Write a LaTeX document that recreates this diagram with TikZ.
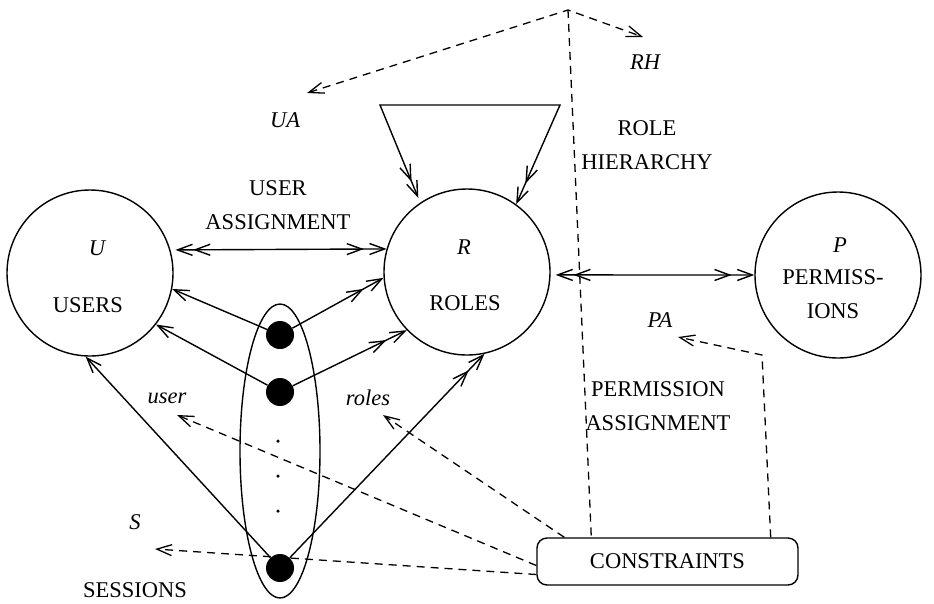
\documentclass[tikz,border=0pt]{standalone}
\usepackage{fontspec}
\setmainfont{Liberation Serif}
\usetikzlibrary{arrows.meta,shapes.geometric}

\colorlet{set edge}{black}
\tikzset{
  every node/.style={font=\fontsize{22.5}{34}\selectfont},
  set/.style={circle, draw=set edge, line width=1.4pt, minimum size=166pt, inner sep=0pt},
  sessions/.style={ellipse, draw=set edge, line width=1.4pt, minimum width=80pt, minimum height=294pt, inner sep=0pt},
  box/.style={rectangle, rounded corners=10pt, draw=set edge, line width=1.4pt, minimum width=261pt, minimum height=47pt},
  mathlabel/.style={font=\fontsize{22.5}{34}\selectfont\itshape, inner sep=0pt},
  textlabel/.style={align=center, inner sep=0pt}
  }
\tikzstyle{edge} = [draw, line width=1.4pt, -{Straight Barb[length=15pt,width=11pt]}]
\tikzstyle{manyedge} = [draw, line width=1.4pt,
  -{Straight Barb[length=15pt,width=11pt,sep=5pt] Straight Barb[length=15pt,width=11pt]}]
\tikzstyle{bothmany} = [draw, line width=1.4pt,
  {Straight Barb[length=15pt,width=11pt,sep=5pt] Straight Barb[length=15pt,width=11pt]}-{Straight Barb[length=15pt,width=11pt,sep=5pt] Straight Barb[length=15pt,width=11pt]}]
\tikzstyle{dashline} = [draw, line width=1.3pt, dash pattern=on 8pt off 6pt]
\tikzstyle{dashedge} = [dashline, -{Straight Barb[length=15pt,width=11pt]}]
\tikzstyle{dashboth} = [dashline, {Straight Barb[length=15pt,width=11pt]}-{Straight Barb[length=15pt,width=11pt]}]
\tikzstyle{vertex}=[circle, fill=black, minimum size=28pt, inner sep=0pt]
\tikzstyle{dot}=[circle, fill=black, minimum size=3.5pt, inner sep=0pt]

\begin{document}
\begin{tikzpicture}[x=1pt,y=-1pt]
  \useasboundingbox (0,0) rectangle (934,603);

  \node[set] (users) at (90,273) {};
  \node[set] (roles) at (467,272) {};
  \node[set] (perms) at (838,275) {};
  \node[sessions] (sess) at (280,451) {};
  \node[box] (cons) at (667.5,561.5) {CONSTRAINTS};

  \foreach \pos/\name/\txt in {{(97,248)/lU/U}, {(464,247)/lR/R}, {(840,245)/lP/P},
      {(285,120)/lUA/UA}, {(645,62)/lRH/RH}, {(660,320)/lPA/PA},
      {(135,522)/lS/S}, {(167,398)/luser/user}, {(368,398)/lroles/roles}} {
    \node[mathlabel] (\name) at \pos {\txt};
  }
  \foreach \pos/\name/\txt in {{(88,305)/tusers/USERS}, {(465,303)/troles/ROLES},
      {(833,294)/tperms/{PERMISS-\\IONS}}, {(278,205)/tua/{USER\\ASSIGNMENT}},
      {(647,145)/trh/{ROLE\\HIERARCHY}}, {(658,406)/tpa/{PERMISSION\\ASSIGNMENT}},
      {(135,590)/tsess/SESSIONS}} {
    \node[textlabel] (\name) at \pos {\txt};
  }

  % assignments
  \path[bothmany] (users.16) -- (roles.164);
  \path[bothmany] (roles.-2) -- (perms.180);
  \coordinate (loopL) at (380,105);
  \coordinate (loopR) at (560,105);
  \path[bothmany] (roles.124) -- (loopL) -- (loopR) -- (roles.54);

  % sessions
  \foreach \pos/\name in {{(280,335)/s1}, {(280,392)/s2}, {(280,568)/s3}} {
    \node[vertex] (\name) at \pos {};
  }
  \foreach \y [count=\i] in {441,476,511} {
    \node[dot] (dot\i) at (278,\y) {};
  }
  \foreach \s/\u/\r in {s1/-11/184, s2/-38/224, s3/-93/-78} {
    \path[edge] (\s) -- (users.\u);
    \path[manyedge] (\s) -- (roles.\r);
  }

  % constraints
  \coordinate (apex) at (568,10);
  \coordinate (uaEnd) at (307,93);
  \coordinate (rhEnd) at (643,37);
  \coordinate (paBend) at (762,355);
  \coordinate (paEnd) at (678,337);
  \coordinate (userEnd) at (177,415);
  \coordinate (rolesEnd) at (383,415);
  \coordinate (sEnd) at (155,549);
  \path[dashboth] (uaEnd) -- (apex) -- (rhEnd);
  \path[dashline] (apex) -- ([xshift=55pt]cons.north west);
  \path[dashedge] ([xshift=-28pt]cons.north east) -- (paBend) -- (paEnd);
  \path[dashedge] ([xshift=28pt]cons.north west) -- (rolesEnd);
  \path[dashedge] ([yshift=-4pt]cons.west) -- (userEnd);
  \path[dashedge] ([yshift=-13pt]cons.west) -- (sEnd);

\end{tikzpicture}
\end{document}
